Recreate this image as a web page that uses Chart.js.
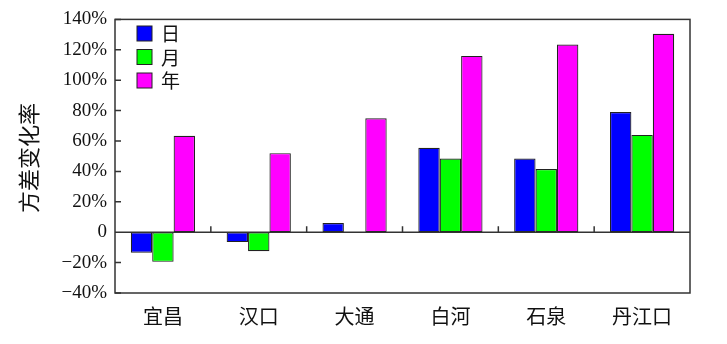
<!DOCTYPE html>
<html>
<head>
<meta charset="utf-8">
<script src="https://cdn.jsdelivr.net/npm/chart.js@4"></script>
<style>
  html, body { margin: 0; padding: 0; background: #fff; }
  #wrap { width: 727px; height: 344px; }
</style>
</head>
<body>
<div id="wrap"><canvas id="c" width="727" height="344"></canvas></div>
<script>
const categories = ['宜昌', '汉口', '大通', '白河', '石泉', '丹江口'];
const seriesNames = ['日', '月', '年'];
const dayValues = [-13.5, -6.5, 6, 55.5, 48.5, 79];
const monthValues = [-19.5, -12.5, 0, 48.5, 41.5, 64];
const yearValues = [63.5, 52, 75, 116, 123.5, 130.5];
const yTicks = [-40, -20, 0, 20, 40, 60, 80, 100, 120, 140];
const colors = ['#0000ff', '#00ff00', '#ff00ff'];

const serif = '"Liberation Serif", "Times New Roman", serif';
const cjk = '"Noto Sans CJK SC", sans-serif';

function tickLabel(v) {
  if (v === 0) return '0';
  if (v < 0) return '\u2212' + Math.abs(v) + '%';
  return v + '%';
}

// frame, inward ticks, zero line, legend and axis title
const decor = {
  id: 'decor',
  afterDatasetsDraw(chart) {
    const { ctx, chartArea: a, scales } = chart;
    const y = scales.y, x = scales.x;
    const zero = y.getPixelForValue(0);
    ctx.save();
    ctx.strokeStyle = '#333';
    ctx.lineWidth = 1.5;
    ctx.strokeRect(a.left, a.top, a.right - a.left, a.bottom - a.top);
    ctx.beginPath();
    ctx.moveTo(a.left, zero);
    ctx.lineTo(a.right, zero);
    yTicks.forEach(v => {
      const py = y.getPixelForValue(v);
      ctx.moveTo(a.left, py);
      ctx.lineTo(a.left + 6, py);
    });
    for (let i = 1; i < categories.length; i++) {
      const px = (x.getPixelForValue(i - 1) + x.getPixelForValue(i)) / 2;
      ctx.moveTo(px, zero);
      ctx.lineTo(px, zero - 6);
    }
    ctx.stroke();

    // legend
    ctx.lineWidth = 1;
    ctx.font = '19px ' + cjk;
    ctx.textBaseline = 'middle';
    seriesNames.forEach((name, i) => {
      const by = 26 + i * 23.5;
      ctx.fillStyle = colors[i];
      ctx.fillRect(137, by, 15, 15);
      ctx.strokeStyle = '#222';
      ctx.strokeRect(137, by, 15, 15);
      ctx.fillStyle = '#111';
      ctx.fillText(name, 161, by + 8);
    });

    // y title
    ctx.translate(29, 158);
    ctx.rotate(-Math.PI / 2);
    ctx.font = '22px ' + cjk;
    ctx.textAlign = 'center';
    ctx.fillStyle = '#111';
    ctx.fillText('方差变化率', 0, 0);
    ctx.restore();
  }
};

new Chart(document.getElementById('c'), {
  type: 'bar',
  data: {
    labels: categories,
    datasets: [dayValues, monthValues, yearValues].map((d, i) => ({
      label: seriesNames[i],
      data: d,
      backgroundColor: colors[i],
      borderColor: '#222',
      borderWidth: 1.2,
      borderSkipped: false,
      barPercentage: 1,
      categoryPercentage: 0.67,
    })),
  },
  options: {
    responsive: false,
    animation: false,
    layout: { padding: { left: 0, right: 37, top: 18, bottom: 0 } },
    plugins: { legend: { display: false }, tooltip: { enabled: false } },
    scales: {
      x: {
        grid: { display: false, drawTicks: false },
        border: { display: false },
        ticks: { color: '#111', font: { family: cjk, size: 20 }, padding: 11 },
        afterFit: s => { s.height = 51; },
      },
      y: {
        min: -40,
        max: 140,
        afterBuildTicks: s => { s.ticks = yTicks.map(v => ({ value: v })); },
        grid: { display: false, drawTicks: false },
        border: { display: false },
        ticks: {
          color: '#111',
          font: { family: serif, size: 19 },
          padding: 8,
          callback: v => tickLabel(v),
        },
        afterFit: s => { s.width = 115; },
      },
    },
  },
  plugins: [decor],
});
</script>
</body>
</html>
